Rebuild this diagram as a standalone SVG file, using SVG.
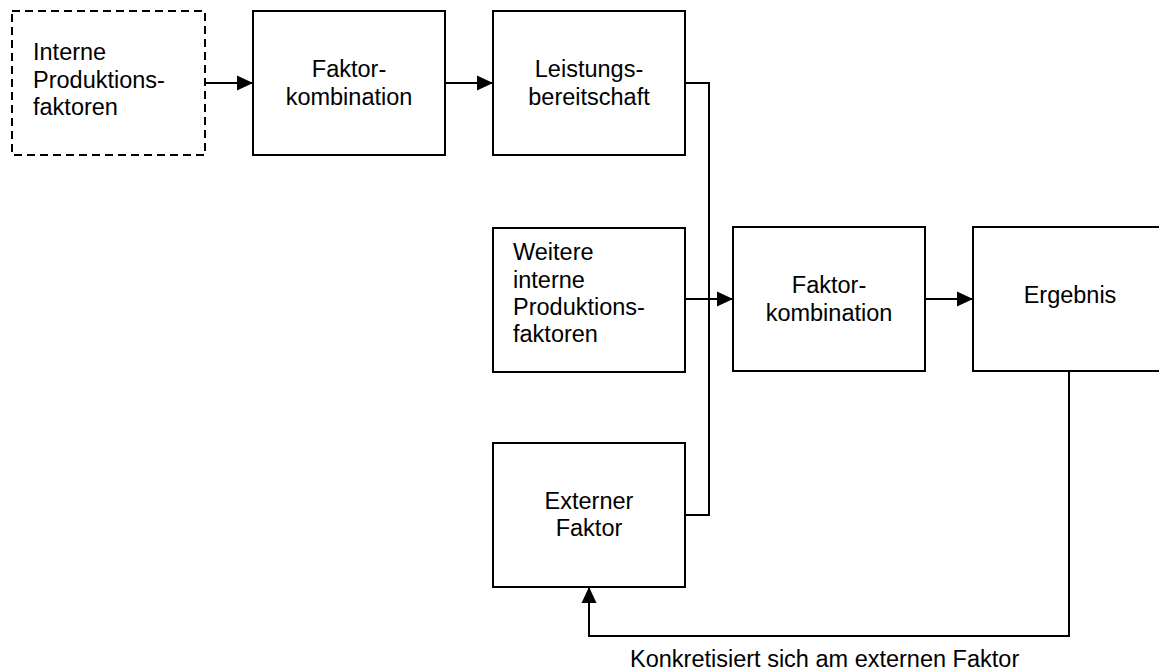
<svg xmlns="http://www.w3.org/2000/svg" width="1159" height="670" viewBox="0 0 1159 670">
  <style>
    .box { fill: #ffffff; stroke: #000000; stroke-width: 2; }
    .dashed { stroke-dasharray: 8 5; }
    .lbl { font-family: "Liberation Sans", Arial, sans-serif; font-size: 23.5px; fill: #000000; }
    .mid { text-anchor: middle; }
    .wire { fill: none; stroke: #000000; stroke-width: 2; }
  </style>
  <defs>
    <marker id="arrow" markerUnits="userSpaceOnUse" markerWidth="16" markerHeight="16" viewBox="0 0 16 16" refX="16" refY="8" orient="auto">
      <path d="M0,0.5 L16,8 L0,15.5 Z" fill="#000000"/>
    </marker>
  </defs>
  <rect width="1159" height="670" fill="#ffffff"/>

  <g id="interne-produktionsfaktoren">
    <rect class="box dashed" x="12" y="11" width="193" height="144"/>
    <text class="lbl" x="33" y="60">Interne</text>
    <text class="lbl" x="33" y="87.5">Produktions-</text>
    <text class="lbl" x="33" y="115">faktoren</text>
  </g>

  <g id="faktorkombination-1">
    <rect class="box" x="253" y="11" width="192" height="144"/>
    <text class="lbl mid" x="349" y="77">Faktor-</text>
    <text class="lbl mid" x="349" y="105">kombination</text>
  </g>

  <g id="leistungsbereitschaft">
    <rect class="box" x="493" y="11" width="192" height="144"/>
    <text class="lbl mid" x="589" y="77">Leistungs-</text>
    <text class="lbl mid" x="589" y="105">bereitschaft</text>
  </g>

  <g id="weitere-interne-produktionsfaktoren">
    <rect class="box" x="493" y="228" width="192" height="144"/>
    <text class="lbl" x="513" y="260">Weitere</text>
    <text class="lbl" x="513" y="288">interne</text>
    <text class="lbl" x="513" y="315">Produktions-</text>
    <text class="lbl" x="513" y="342">faktoren</text>
  </g>

  <g id="externer-faktor">
    <rect class="box" x="493" y="443" width="192" height="144"/>
    <text class="lbl mid" x="589" y="509">Externer</text>
    <text class="lbl mid" x="589" y="536">Faktor</text>
  </g>

  <g id="faktorkombination-2">
    <rect class="box" x="733" y="227" width="192" height="144"/>
    <text class="lbl mid" x="829" y="293">Faktor-</text>
    <text class="lbl mid" x="829" y="321">kombination</text>
  </g>

  <g id="ergebnis">
    <rect class="box" x="973" y="227" width="194" height="144"/>
    <text class="lbl mid" x="1070" y="303">Ergebnis</text>
  </g>

  <g id="connectors">
    <line class="wire" x1="205" y1="83" x2="253" y2="83" marker-end="url(#arrow)"/>
    <line class="wire" x1="445" y1="83" x2="493" y2="83" marker-end="url(#arrow)"/>
    <polyline class="wire" points="685,83 709,83 709,515 685,515"/>
    <line class="wire" x1="685" y1="299" x2="733" y2="299" marker-end="url(#arrow)"/>
    <line class="wire" x1="925" y1="299" x2="973" y2="299" marker-end="url(#arrow)"/>
    <polyline class="wire" points="1069,371 1069,636 589,636 589,587" marker-end="url(#arrow)"/>
  </g>

  <text id="feedback-label" class="lbl" x="630" y="667">Konkretisiert sich am externen Faktor</text>
</svg>
